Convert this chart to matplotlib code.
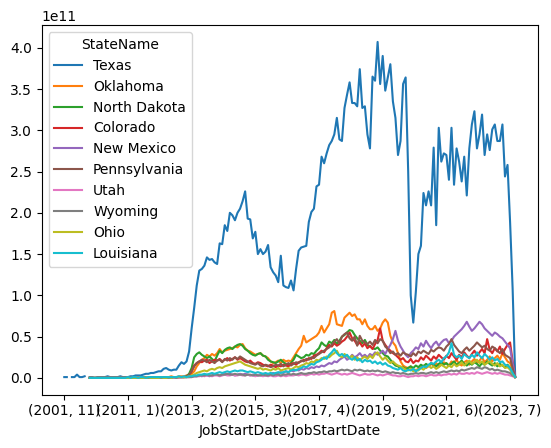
import numpy as np
import pandas as pd
import matplotlib
matplotlib.use('Agg')
import matplotlib.pyplot as plt

na = np.nan

# (year, month) job start dates; sparse before 2009-10, monthly afterwards
early_dates = [(2001, 11), (2002, 6), (2003, 3), (2004, 8), (2005, 5),
               (2006, 9), (2007, 2), (2008, 7), (2009, 1), (2009, 6)]
monthly_start = (2009, 10)
monthly_end = (2023, 9)

states = ['Texas', 'Oklahoma', 'North Dakota', 'Colorado', 'New Mexico',
          'Pennsylvania', 'Utah', 'Wyoming', 'Ohio', 'Louisiana']

# values in units of 1e9
texas = [1, 1, na, 1, 1, 4, 1, 1, 2, na,
         1, 1, 0, 1, 1, 1, 1, 2, 1, 1,
         1, 1, 2, 1, 1, 1, 2, 2, 3, 3,
         3, 4, 5, 5, 6, 6, 7, 8, 8, 11,
         12, 10, 9, 10, 10, 15, 19, 17, 20, 32,
         60, 85, 112, 130, 132, 136, 146, 143, 144, 140,
         138, 163, 162, 185, 178, 200, 197, 191, 200, 205,
         214, 226, 193, 192, 169, 177, 150, 156, 150, 153,
         161, 134, 128, 124, 116, 148, 112, 110, 109, 118,
         106, 132, 154, 158, 159, 160, 189, 201, 205, 232,
         234, 268, 260, 272, 282, 287, 295, 315, 289, 287,
         327, 343, 358, 333, 333, 329, 374, 327, 329, 295,
         278, 365, 360, 407, 356, 390, 348, 364, 380, 335,
         315, 270, 287, 356, 364, 250, 100, 67, 104, 150,
         160, 224, 209, 226, 209, 279, 185, 303, 262, 272,
         270, 240, 303, 234, 278, 262, 238, 268, 221, 278,
         307, 323, 278, 295, 319, 270, 295, 276, 301, 307,
         287, 287, 307, 244, 258, 189, 108, 2]

oklahoma = [na, na, na, na, na, na, na, na, na, na,
            0, 0, 0, 0, 0, 0, 0, 0, 0, 0,
            0, 0, 0, 0, 0, 0, 0, 0, 0, 1,
            0, 1, 1, 0, 1, 1, 1, 1, 1, 1,
            1, 1, 2, 1, 1, 2, 2, 2, 3, 4,
            5, 8, 14, 18, 22, 24, 28, 26, 29, 27,
            30, 35, 31, 33, 34, 35, 36, 38, 37, 40,
            41, 36, 33, 32, 30, 28, 29, 30, 27, 26,
            24, 20, 18, 19, 21, 18, 22, 20, 21, 20,
            25, 30, 35, 39, 51, 43, 45, 47, 49, 51,
            55, 63, 55, 60, 65, 79, 81, 65, 64, 63,
            73, 76, 79, 75, 77, 71, 71, 65, 71, 63,
            59, 59, 63, 57, 60, 67, 71, 67, 51, 43,
            39, 30, 20, 15, 13, 12, 14, 10, 9, 11,
            13, 15, 12, 14, 17, 15, 18, 14, 16, 19,
            17, 15, 20, 18, 22, 17, 15, 19, 21, 16,
            20, 23, 18, 21, 25, 19, 22, 26, 20, 24,
            27, 22, 30, 25, 20, 18, 10, 1]

north_dakota = [na, na, na, na, na, na, na, na, na, na,
                0, 0, 0, 0, 0, 0, 0, 0, 0, 0,
                0, 0, 0, 0, 0, 0, 0, 0, 0, 0,
                0, 0, 0, 0, 0, 0, 0, 1, 0, 0,
                1, 0, 1, 1, 1, 1, 1, 1, 2, 5,
                12, 25, 29, 31, 28, 26, 24, 26, 23, 20,
                27, 33, 30, 34, 36, 37, 35, 38, 40, 41,
                39, 35, 33, 30, 28, 27, 29, 30, 27, 26,
                22, 20, 19, 18, 20, 22, 19, 17, 16, 18,
                22, 28, 26, 24, 25, 28, 27, 30, 29, 33,
                36, 43, 40, 38, 44, 42, 46, 41, 45, 50,
                52, 55, 58, 57, 52, 48, 45, 42, 46, 40,
                38, 36, 35, 37, 33, 30, 27, 26, 22, 18,
                15, 14, 12, 13, 11, 12, 14, 12, 15, 13,
                16, 14, 17, 15, 18, 16, 14, 17, 19, 16,
                18, 15, 17, 20, 16, 18, 21, 17, 15, 18,
                16, 19, 17, 14, 18, 16, 20, 17, 15, 18,
                14, 17, 15, 13, 16, 12, 6, 1]

colorado = [na, na, na, na, na, na, na, na, na, na,
            0, 0, 0, 0, 0, 0, 0, 0, 0, 0,
            0, 0, 0, 0, 0, 0, 0, 0, 0, 0,
            0, 0, 0, 0, 1, 0, 0, 0, 1, 0,
            1, 1, 0, 1, 1, 1, 1, 1, 1, 3,
            8, 15, 18, 20, 19, 21, 22, 18, 20, 22,
            21, 23, 20, 22, 24, 21, 23, 25, 22, 24,
            22, 20, 19, 21, 18, 17, 19, 18, 16, 15,
            14, 16, 15, 13, 15, 14, 16, 15, 14, 17,
            18, 16, 19, 20, 22, 21, 24, 23, 27, 28,
            30, 33, 31, 36, 40, 38, 42, 39, 41, 44,
            46, 50, 55, 48, 45, 40, 43, 38, 42, 36,
            39, 35, 41, 46, 60, 45, 40, 36, 33, 30,
            28, 25, 22, 24, 20, 19, 23, 18, 21, 20,
            25, 22, 27, 24, 21, 26, 23, 28, 25, 22,
            27, 24, 30, 26, 22, 28, 25, 31, 27, 24,
            29, 33, 27, 31, 35, 30, 47, 34, 30, 36,
            32, 38, 29, 35, 40, 43, 20, 1]

new_mexico = [na, na, na, na, na, na, na, na, na, na,
              0, 0, 0, 0, 0, 0, 0, 0, 0, 0,
              0, 0, 0, 0, 0, 0, 0, 0, 0, 0,
              0, 0, 0, 0, 0, 0, 0, 0, 0, 1,
              0, 1, 1, 1, 1, 1, 1, 1, 1, 1,
              2, 2, 2, 3, 2, 3, 3, 2, 3, 4,
              4, 3, 4, 5, 4, 5, 4, 3, 4, 5,
              4, 5, 4, 3, 4, 4, 3, 4, 5, 4,
              4, 5, 6, 5, 6, 7, 6, 8, 7, 9,
              8, 10, 9, 11, 10, 12, 11, 13, 12, 14,
              13, 15, 14, 16, 18, 17, 20, 19, 22, 24,
              26, 22, 24, 28, 25, 27, 30, 26, 28, 25,
              29, 27, 31, 28, 30, 33, 29, 35, 40, 47,
              57, 45, 38, 33, 28, 25, 30, 33, 37, 35,
              42, 38, 45, 40, 36, 41, 44, 39, 43, 46,
              47, 42, 45, 50, 53, 56, 59, 63, 68, 62,
              57, 60, 64, 68, 65, 60, 57, 54, 51, 55,
              53, 50, 48, 44, 40, 36, 18, 2]

pennsylvania = [na, na, na, na, na, na, na, na, na, na,
                0, 0, 0, 0, 0, 0, 0, 0, 0, 0,
                0, 0, 0, 0, 0, 0, 0, 0, 0, 0,
                0, 0, 0, 0, 0, 0, 0, 0, 0, 0,
                0, 0, 1, 0, 1, 1, 1, 1, 2, 4,
                8, 14, 18, 20, 22, 21, 19, 22, 20, 18,
                21, 22, 19, 23, 21, 24, 22, 25, 23, 26,
                24, 22, 20, 18, 17, 16, 18, 15, 14, 16,
                15, 13, 14, 16, 15, 17, 14, 16, 18, 15,
                17, 19, 18, 21, 20, 23, 22, 25, 24, 27,
                29, 31, 33, 35, 37, 40, 44, 47, 42, 50,
                53, 55, 48, 45, 50, 39, 51, 45, 43, 41,
                44, 40, 46, 42, 47, 45, 38, 35, 30, 32,
                28, 30, 27, 31, 29, 28, 26, 30, 27, 32,
                30, 33, 31, 29, 34, 32, 35, 37, 36, 33,
                38, 41, 47, 40, 36, 32, 30, 34, 37, 33,
                36, 39, 43, 40, 37, 39, 35, 33, 38, 36,
                33, 30, 35, 28, 26, 24, 12, 1]

utah = [na, na, na, na, na, na, na, na, na, na,
        0, 0, 0, 0, 0, 0, 0, 0, 0, 0,
        0, 0, 0, 0, 0, 0, 0, 0, 0, 0,
        0, 0, 0, 0, 0, 0, 0, 0, 0, 0,
        0, 0, 0, 0, 0, 0, 1, 1, 1, 1,
        1, 2, 2, 2, 3, 2, 3, 3, 2, 3,
        3, 2, 3, 4, 3, 3, 4, 3, 3, 4,
        3, 3, 4, 3, 3, 2, 3, 3, 2, 3,
        2, 3, 2, 2, 3, 2, 3, 2, 3, 3,
        3, 4, 3, 4, 4, 3, 4, 5, 4, 5,
        4, 5, 5, 6, 5, 4, 5, 6, 5, 4,
        5, 4, 5, 6, 5, 4, 3, 4, 5, 4,
        4, 5, 4, 3, 4, 3, 4, 5, 4, 3,
        3, 2, 2, 3, 2, 1, 2, 2, 3, 2,
        3, 3, 2, 3, 4, 3, 3, 4, 3, 4,
        4, 5, 4, 5, 4, 6, 5, 5, 6, 5,
        6, 5, 7, 6, 5, 6, 7, 6, 5, 6,
        5, 6, 5, 4, 4, 3, 2, 1]

wyoming = [na, na, na, na, na, na, na, na, na, na,
           0, 0, 0, 0, 0, 0, 0, 0, 0, 0,
           0, 0, 0, 0, 0, 0, 0, 0, 0, 0,
           0, 0, 0, 0, 0, 0, 0, 0, 0, 0,
           0, 0, 0, 1, 0, 1, 1, 1, 1, 1,
           1, 2, 2, 3, 3, 3, 4, 3, 3, 4,
           4, 3, 4, 4, 5, 4, 4, 5, 4, 4,
           4, 3, 4, 4, 3, 4, 3, 3, 4, 3,
           3, 4, 3, 4, 4, 3, 4, 4, 5, 4,
           5, 4, 5, 6, 5, 5, 6, 6, 7, 6,
           7, 7, 8, 7, 8, 8, 9, 8, 9, 10,
           9, 10, 9, 8, 10, 9, 10, 9, 8, 9,
           8, 9, 8, 9, 8, 7, 8, 7, 6, 7,
           6, 6, 5, 6, 5, 4, 5, 5, 6, 5,
           6, 6, 5, 6, 7, 6, 7, 6, 7, 8,
           7, 8, 9, 8, 9, 8, 10, 9, 10, 11,
           12, 11, 13, 12, 11, 13, 12, 10, 11, 9,
           10, 9, 8, 8, 7, 6, 3, 1]

ohio = [na, na, na, na, na, na, na, na, na, na,
        0, 0, 0, 0, 0, 0, 0, 0, 0, 0,
        0, 0, 0, 0, 0, 0, 0, 0, 0, 0,
        0, 0, 0, 1, 0, 0, 0, 0, 1, 0,
        0, 1, 0, 1, 1, 1, 1, 1, 1, 2,
        3, 4, 6, 7, 8, 9, 8, 10, 11, 10,
        12, 13, 12, 14, 15, 16, 17, 18, 19, 20,
        18, 16, 15, 14, 13, 12, 11, 12, 10, 11,
        10, 9, 11, 10, 12, 9, 10, 11, 12, 10,
        12, 14, 13, 15, 16, 18, 17, 20, 19, 22,
        21, 24, 23, 26, 25, 28, 30, 33, 27, 25,
        29, 26, 24, 27, 22, 25, 21, 24, 26, 23,
        27, 24, 29, 31, 26, 22, 25, 21, 18, 20,
        17, 15, 14, 12, 10, 9, 11, 8, 10, 9,
        12, 10, 13, 15, 12, 14, 11, 13, 16, 14,
        12, 15, 13, 17, 14, 16, 19, 15, 18, 21,
        17, 19, 22, 18, 20, 16, 18, 21, 17, 15,
        18, 14, 16, 12, 13, 10, 5, 1]

louisiana = [na, na, na, na, na, na, na, na, na, na,
             0, 0, 0, 0, 0, 0, 0, 0, 0, 0,
             0, 0, 0, 0, 0, 1, 0, 1, 1, 0,
             1, 1, 0, 1, 1, 1, 1, 1, 1, 1,
             1, 1, 1, 1, 1, 2, 1, 2, 1, 2,
             2, 3, 3, 4, 4, 5, 4, 5, 6, 5,
             6, 7, 6, 7, 8, 7, 8, 9, 8, 9,
             9, 8, 7, 8, 7, 6, 7, 6, 5, 6,
             5, 6, 5, 6, 7, 6, 7, 8, 7, 9,
             10, 9, 11, 12, 14, 13, 15, 17, 16, 19,
             20, 22, 25, 23, 28, 31, 35, 30, 27, 29,
             26, 28, 24, 22, 25, 21, 23, 19, 22, 20,
             21, 18, 20, 17, 19, 16, 18, 15, 14, 12,
             11, 10, 12, 9, 8, 10, 9, 11, 8, 10,
             12, 14, 13, 16, 18, 17, 20, 22, 19, 24,
             26, 31, 42, 28, 25, 27, 23, 29, 26, 24,
             28, 25, 31, 27, 24, 29, 26, 22, 25, 21,
             23, 19, 20, 16, 15, 12, 6, 1]

# build the (year, month) index
dates = list(early_dates)
y, m = monthly_start
while (y, m) <= monthly_end:
    dates.append((y, m))
    m += 1
    if m > 12:
        y, m = y + 1, 1

series = [texas, oklahoma, north_dakota, colorado, new_mexico,
          pennsylvania, utah, wyoming, ohio, louisiana]
for s in series:
    assert len(s) == len(dates), (len(s), len(dates))

index = pd.MultiIndex.from_tuples(dates, names=['JobStartDate', 'JobStartDate'])
df = pd.DataFrame({name: np.array(vals, dtype=float) * 1e9
                   for name, vals in zip(states, series)}, index=index)
df.columns.name = 'StateName'

fig, ax = plt.subplots(figsize=(6.4, 4.8))
df.plot(ax=ax)
ax.legend(title='StateName', loc='upper left')

fig.savefig('out.png', dpi=100, bbox_inches='tight')
